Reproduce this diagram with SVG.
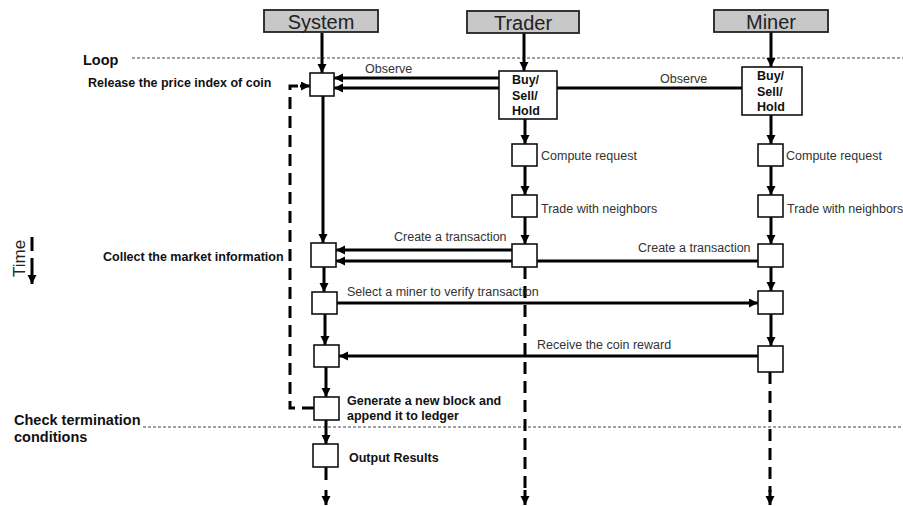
<svg xmlns="http://www.w3.org/2000/svg" width="903" height="506" viewBox="0 0 903 506">
<style>
.hdr{fill:#c8c8c8;stroke:#222;stroke-width:1.8}
.hdrt{font-family:"Liberation Sans",Arial,sans-serif;font-size:20px;fill:#222;text-anchor:middle}
.box{fill:#fff;stroke:#111;stroke-width:1.6}
.lbl{font-family:"Liberation Sans",Arial,sans-serif;font-size:12.5px;fill:#333}
.blbl{font-family:"Liberation Sans",Arial,sans-serif;font-size:12.5px;font-weight:bold;fill:#111}
.big{font-family:"Liberation Sans",Arial,sans-serif;font-size:14.5px;font-weight:bold;fill:#111}
.ln{stroke:#000;stroke-width:3;fill:none}
.arr{stroke:#000;stroke-width:3;fill:none;marker-end:url(#ah)}
.dash{stroke:#000;stroke-width:3;fill:none;stroke-dasharray:12 7}
.sep{stroke:#444;stroke-width:1;stroke-dasharray:3 2;fill:none}
</style>
<defs>
<marker id="ah" markerUnits="userSpaceOnUse" markerWidth="10" markerHeight="10" refX="9" refY="4.5" orient="auto">
<path d="M0,0 L9,4.5 L0,9 z" fill="#000"/>
</marker>
</defs>
<rect width="903" height="506" fill="#fff"/>

<!-- separators and side labels -->
<g id="separators">
<line class="sep" x1="132" y1="58" x2="903" y2="58"/>
<line class="sep" x1="143" y1="427" x2="903" y2="427"/>
<text class="big" x="83" y="65">Loop</text>
<text class="big" x="14" y="425">Check termination</text>
<text class="big" x="14" y="442">conditions</text>
<text class="blbl" x="88" y="87">Release the price index of coin</text>
<text class="blbl" x="103" y="261">Collect the market information</text>
</g>

<g id="time-axis">
<text font-family="Liberation Sans, Arial, sans-serif" font-size="17" fill="#222" transform="translate(25,277) rotate(-90)">Time</text>
<line class="ln" x1="32" y1="237" x2="32" y2="251"/>
<line class="arr" x1="32" y1="258" x2="32" y2="284"/>
</g>

<!-- connectors -->
<g id="connectors">
<!-- System lifeline -->
<line class="arr" x1="322" y1="33" x2="322" y2="73"/>
<line class="arr" x1="323" y1="96" x2="323" y2="243"/>
<line class="arr" x1="324" y1="267" x2="324" y2="292"/>
<line class="arr" x1="325" y1="314" x2="325" y2="345"/>
<line class="arr" x1="326" y1="367" x2="326" y2="397"/>
<line class="arr" x1="326" y1="420" x2="326" y2="444"/>
<line class="ln" x1="326" y1="467" x2="326" y2="480"/>
<line class="arr" x1="326" y1="490" x2="326" y2="505"/>
<!-- Trader lifeline -->
<line class="arr" x1="524" y1="33" x2="524" y2="71"/>
<line class="arr" x1="525" y1="119" x2="525" y2="144"/>
<line class="arr" x1="525" y1="166" x2="525" y2="195"/>
<line class="arr" x1="525" y1="217" x2="525" y2="244"/>
<line class="dash" x1="525" y1="267" x2="525" y2="492"/>
<line class="arr" x1="525" y1="490" x2="525" y2="505"/>
<!-- Miner lifeline -->
<line class="arr" x1="771" y1="32" x2="771" y2="67"/>
<line class="arr" x1="771" y1="115" x2="771" y2="144"/>
<line class="arr" x1="771" y1="166" x2="771" y2="195"/>
<line class="arr" x1="771" y1="217" x2="771" y2="244"/>
<line class="arr" x1="771" y1="267" x2="771" y2="291"/>
<line class="arr" x1="771" y1="314" x2="771" y2="346"/>
<line class="dash" x1="770" y1="372" x2="770" y2="492"/>
<line class="arr" x1="770" y1="490" x2="770" y2="505"/>
<!-- Observe -->
<line class="arr" x1="499" y1="78" x2="334" y2="78"/>
<line class="arr" x1="742" y1="88" x2="334" y2="88"/>
<!-- Create a transaction -->
<line class="arr" x1="512" y1="250" x2="336" y2="250"/>
<line class="arr" x1="758" y1="261" x2="336" y2="261"/>
<!-- Select a miner -->
<line class="arr" x1="337" y1="303" x2="758" y2="303"/>
<!-- Receive reward -->
<line class="arr" x1="758" y1="356" x2="339" y2="356"/>
<!-- Loop back -->
<path class="dash" d="M314,408 H290 V86 H300" stroke-dasharray="10 6"/>
<line class="arr" x1="300" y1="86" x2="310" y2="86"/>
<!-- labels -->
<text class="lbl" x="365" y="73">Observe</text>
<text class="lbl" x="660" y="83">Observe</text>
<text class="lbl" x="394" y="241">Create a transaction</text>
<text class="lbl" x="638" y="252">Create a transaction</text>
<text class="lbl" x="347" y="296">Select a miner to verify transaction</text>
<text class="lbl" x="537" y="349">Receive the coin reward</text>
</g>

<!-- headers -->
<g id="system-header"><rect class="hdr" x="264" y="10" width="114" height="22"/><text class="hdrt" x="321" y="29">System</text></g>
<g id="trader-header"><rect class="hdr" x="467" y="11" width="112" height="22"/><text class="hdrt" x="523" y="30">Trader</text></g>
<g id="miner-header"><rect class="hdr" x="714" y="10" width="114" height="22"/><text class="hdrt" x="771" y="29">Miner</text></g>

<!-- System nodes -->
<g id="sys-release"><rect class="box" x="310" y="73" width="24" height="23"/></g>
<g id="sys-collect"><rect class="box" x="311" y="243" width="25" height="24"/></g>
<g id="sys-select"><rect class="box" x="312" y="292" width="25" height="22"/></g>
<g id="sys-receive"><rect class="box" x="314" y="345" width="25" height="22"/></g>
<g id="sys-generate"><rect class="box" x="314" y="397" width="25" height="23"/>
<text class="blbl" x="347" y="405">Generate a new block and</text>
<text class="blbl" x="347" y="420">append it to ledger</text></g>
<g id="sys-output"><rect class="box" x="313" y="444" width="25" height="23"/>
<text class="blbl" x="349" y="462">Output Results</text></g>

<!-- Trader nodes -->
<g id="trader-decide"><rect class="box" x="499" y="71" width="58" height="48"/>
<text class="blbl" x="512" y="84">Buy/</text><text class="blbl" x="512" y="100">Sell/</text><text class="blbl" x="512" y="115">Hold</text></g>
<g id="trader-compute"><rect class="box" x="512" y="144" width="25" height="22"/>
<text class="lbl" x="541" y="160">Compute request</text></g>
<g id="trader-trade"><rect class="box" x="512" y="195" width="25" height="22"/>
<text class="lbl" x="541" y="213">Trade with neighbors</text></g>
<g id="trader-create"><rect class="box" x="512" y="244" width="25" height="23"/></g>

<!-- Miner nodes -->
<g id="miner-decide"><rect class="box" x="742" y="67" width="60" height="48"/>
<text class="blbl" x="757" y="80">Buy/</text><text class="blbl" x="757" y="96">Sell/</text><text class="blbl" x="757" y="111">Hold</text></g>
<g id="miner-compute"><rect class="box" x="758" y="144" width="25" height="22"/>
<text class="lbl" x="786" y="160">Compute request</text></g>
<g id="miner-trade"><rect class="box" x="758" y="195" width="25" height="22"/>
<text class="lbl" x="787" y="213">Trade with neighbors</text></g>
<g id="miner-create"><rect class="box" x="758" y="244" width="25" height="23"/></g>
<g id="miner-verify"><rect class="box" x="758" y="291" width="25" height="23"/></g>
<g id="miner-reward"><rect class="box" x="758" y="346" width="25" height="26"/></g>
</svg>
